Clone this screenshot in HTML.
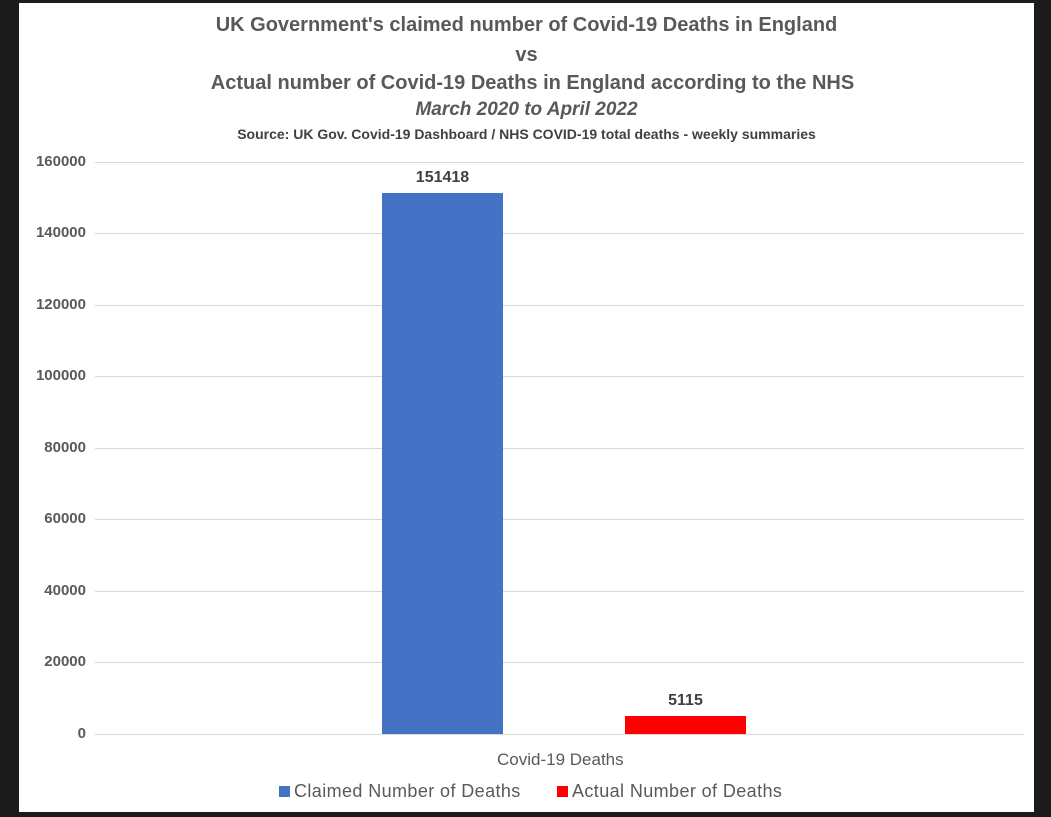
<!DOCTYPE html>
<html><head><style>
body{margin:0;width:1051px;height:817px;background:#1b1b1b;position:relative;overflow:hidden;font-family:"Liberation Sans",sans-serif}
#p{position:absolute;left:19px;top:3px;width:1015px;height:809px;background:#fff}
.t{position:absolute;left:19px;width:1015px;text-align:center;color:#595959;font-weight:bold}
.g{position:absolute;left:95px;width:929px;height:1px;background:#d9d9d9}
.y{position:absolute;left:20px;width:66px;text-align:right;color:#595959;font-weight:bold;font-size:15px}
</style></head><body>
<div id="p"></div>
<div class="t" style="top:14px;font-size:20px">UK Government's claimed number of Covid-19 Deaths in England</div>
<div class="t" style="top:44px;font-size:20px">vs</div>
<div class="t" style="top:72px;font-size:20px;left:25px">Actual number of Covid-19 Deaths in England according to the NHS</div>
<div class="t" style="top:99px;font-size:19px;font-style:italic">March 2020 to April 2022</div>
<div class="t" style="top:126px;font-size:14px;color:#404040">Source: UK Gov. Covid-19 Dashboard / NHS COVID-19 total deaths - weekly summaries</div>
<div class="g" style="top:162px"></div><div class="y" style="top:153px">160000</div>
<div class="g" style="top:233px"></div><div class="y" style="top:224px">140000</div>
<div class="g" style="top:305px"></div><div class="y" style="top:296px">120000</div>
<div class="g" style="top:376px"></div><div class="y" style="top:367px">100000</div>
<div class="g" style="top:448px"></div><div class="y" style="top:439px">80000</div>
<div class="g" style="top:519px"></div><div class="y" style="top:510px">60000</div>
<div class="g" style="top:591px"></div><div class="y" style="top:582px">40000</div>
<div class="g" style="top:662px"></div><div class="y" style="top:653px">20000</div>
<div class="g" style="top:734px"></div><div class="y" style="top:725px">0</div>
<div style="position:absolute;left:382px;top:193px;width:121px;height:541px;background:#4472c4"></div>
<div style="position:absolute;left:625px;top:716px;width:121px;height:18px;background:#ff0000"></div>
<div style="position:absolute;left:382px;width:121px;top:169px;text-align:center;font-weight:bold;font-size:16px;color:#404040">151418</div>
<div style="position:absolute;left:625px;width:121px;top:692px;text-align:center;font-weight:bold;font-size:16px;color:#404040">5115</div>
<div style="position:absolute;left:497px;top:750px;font-size:17px;color:#595959;white-space:nowrap">Covid-19 Deaths</div>
<div style="position:absolute;left:279px;top:786px;width:11px;height:11px;background:#4472c4"></div>
<div style="position:absolute;left:294px;top:781px;font-size:18px;color:#595959;letter-spacing:0.4px;white-space:nowrap">Claimed Number of Deaths</div>
<div style="position:absolute;left:557px;top:786px;width:11px;height:11px;background:#ff0000"></div>
<div style="position:absolute;left:572px;top:781px;font-size:18px;color:#595959;letter-spacing:0.4px;white-space:nowrap">Actual Number of Deaths</div>
</body></html>
